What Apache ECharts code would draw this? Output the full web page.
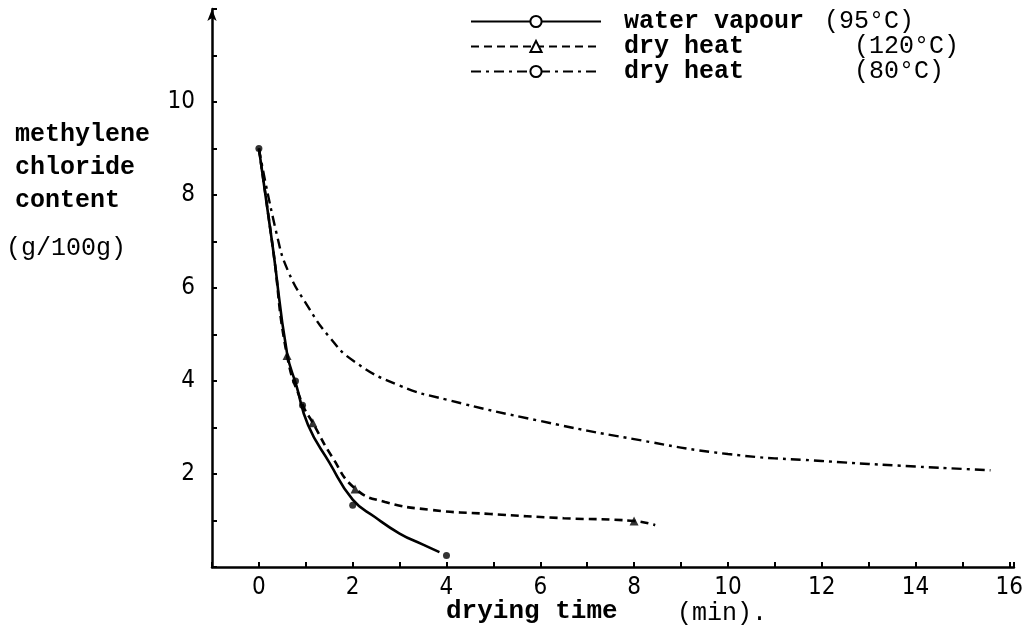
<!DOCTYPE html>
<html>
<head>
<meta charset="utf-8">
<script src="https://cdn.jsdelivr.net/npm/echarts@6/dist/echarts.min.js"></script>
<style>
  html, body { margin: 0; padding: 0; background: #fff; }
  #main { width: 1026px; height: 631px; }
</style>
</head>
<body>
<div id="main"></div>
<script>
// x tick labels shown every 2 min, ticks every 1
var xLabels = [0, 2, 4, 6, 8, 10, 12, 14, 16];
var yLabels = [2, 4, 6, 8, 10];

// curves [time (min), content (g/100g)]
var vapour95Curve = [[0, 9], [0.3, 6.85], [0.6, 4.6], [0.8, 3.9], [1.05, 3.05], [1.5, 2.25],
  [2, 1.45], [2.48, 1.07], [3, 0.72], [3.5, 0.48], [3.85, 0.32]];
var dry120Curve = [[0, 9], [0.3, 6.85], [0.6, 4.55], [0.93, 3.5], [1.15, 3.1], [1.56, 2.37],
  [2.06, 1.68], [2.69, 1.4], [3.66, 1.23], [4.93, 1.14], [6.5, 1.05], [8, 0.99], [8.45, 0.9]];
var dry80Curve = [[0, 9], [0.38, 7.16], [0.62, 6.37], [1.04, 5.61], [1.5, 4.95], [2.02, 4.43],
  [3, 3.9], [4, 3.6], [6, 3.14], [8, 2.75], [10, 2.43], [12, 2.28], [14, 2.16], [15, 2.11], [15.6, 2.08]];

// measured points (markers)
var vapour95Points = [[0, 9], [0.78, 4.0], [0.93, 3.48], [2, 1.33], [4, 0.25]];
var dry120Points = [[0.6, 4.55], [1.15, 3.1], [2.05, 1.68], [8, 0.99]];
var dry80Points = [[0.38, 7.16], [0.62, 6.37], [1.04, 5.61], [2.02, 4.43], [4, 3.6], [10, 2.43], [15, 2.11]];

var names = ['water vapour', 'dry heat ', 'dry heat'];
var temps = ['(95°C)', '(120°C)', '(80°C)'];

var chart = echarts.init(document.getElementById('main'));
var mono = '"Liberation Mono", "DejaVu Sans Mono", monospace';
var numFont = '"Liberation Sans Narrow", "DejaVu Sans Condensed", "DejaVu Sans", sans-serif';

chart.setOption({
  animation: false,
  backgroundColor: '#fff',
  grid: { left: 212, right: 3, top: 9, bottom: 64 },
  legend: {
    orient: 'vertical',
    left: 465,
    top: 4,
    itemWidth: 130,
    itemHeight: 14,
    itemGap: 0,
    data: names,
    formatter: function (n) {
      var i = names.indexOf(n);
      return '{a' + (i === 0 ? '0' : '1') + '|' + n.trim() + '}{b|' + temps[i] + '}';
    },
    textStyle: {
      color: '#000',
      rich: {
        a0: { fontFamily: mono, fontWeight: 'bold', fontSize: 25, width: 200, padding: [0, 0, 0, 18], height: 21 },
        a1: { fontFamily: mono, fontWeight: 'bold', fontSize: 25, width: 230, padding: [0, 0, 0, 18], height: 21 },
        b: { fontFamily: mono, fontSize: 25, height: 21 }
      }
    }
  },
  xAxis: {
    type: 'value',
    min: -1,
    max: 16.1,
    interval: 1,
    splitLine: { show: false },
    axisLine: { onZero: false, lineStyle: { color: '#000', width: 2.5 } },
    axisTick: { inside: true, length: 5, lineStyle: { color: '#000', width: 2 } },
    axisLabel: {
      color: '#000', fontFamily: numFont, fontSize: 24, margin: 9,
      formatter: function (v) { return xLabels.indexOf(v) >= 0 ? String(v) : ''; }
    }
  },
  yAxis: {
    type: 'value',
    min: 0,
    max: 12,
    interval: 1,
    splitLine: { show: false },
    axisLine: { onZero: false, symbol: ['none', 'arrow'], symbolSize: [7, 12], lineStyle: { color: '#000', width: 2.5 } },
    axisTick: { inside: true, length: 5, lineStyle: { color: '#000', width: 2 } },
    axisLabel: {
      color: '#000', fontFamily: numFont, fontSize: 24, margin: 17,
      formatter: function (v) { return yLabels.indexOf(v) >= 0 ? String(v) : ''; }
    }
  },
  graphic: [
    { type: 'text', left: 15, top: 118, style: { text: 'methylene\nchloride\ncontent', font: 'bold 25px ' + mono, lineHeight: 33, fill: '#000' } },
    { type: 'text', left: 6, top: 236, style: { text: '(g/100g)', font: '25px ' + mono, fill: '#000' } },
    { type: 'text', left: 446, top: 598, style: { text: 'drying time', font: 'bold 26px ' + mono, fill: '#000' } },
    { type: 'text', left: 677, top: 601, style: { text: '(min).', font: '25px ' + mono, fill: '#000' } }
  ],
  series: [
    {
      name: names[0], type: 'line', smooth: 0.5, data: vapour95Curve,
      symbol: 'emptyCircle', symbolSize: 6, showSymbol: false,
      lineStyle: { color: '#000', width: 2.6, type: 'solid' }, itemStyle: { color: '#000' }
    },
    {
      name: names[1], type: 'line', smooth: 0.5, data: dry120Curve,
      symbol: 'emptyTriangle', symbolSize: 9, showSymbol: false,
      lineStyle: { color: '#000', width: 2.6, type: [8, 5] }, itemStyle: { color: '#000' }
    },
    {
      name: names[2], type: 'line', smooth: 0.5, data: dry80Curve,
      symbol: 'emptyCircle', symbolSize: 6, showSymbol: false,
      lineStyle: { color: '#000', width: 2.4, type: [10, 5, 3, 5] }, itemStyle: { color: '#000' }
    },
    {
      name: 'vapour95 points', type: 'scatter', data: vapour95Points, symbol: 'circle', symbolSize: 7,
      itemStyle: { color: '#000' }
    },
    {
      name: 'dry120 points', type: 'scatter', data: dry120Points, symbol: 'triangle', symbolSize: 9,
      itemStyle: { color: '#000' }
    },
    {
      name: 'dry80 points', type: 'scatter', data: dry80Points, symbol: 'emptyCircle', symbolSize: 8,
      itemStyle: { color: '#fff', borderColor: '#000', borderWidth: 2 }
    }
  ]
});
</script>
</body>
</html>
